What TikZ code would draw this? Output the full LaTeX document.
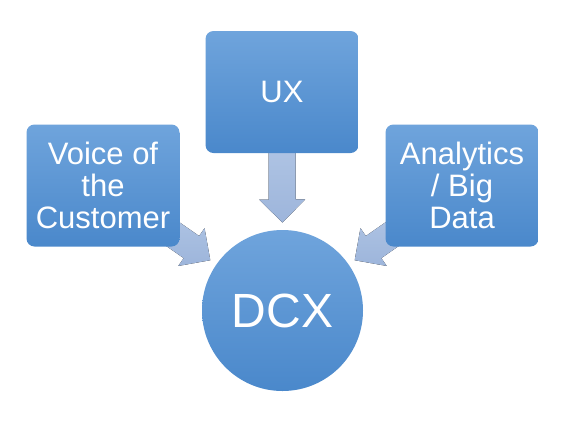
\documentclass[tikz,border=0pt]{standalone}
\usepackage{fontspec}
\setmainfont{Liberation Sans}
\usetikzlibrary{calc}
\definecolor{boxtop}{HTML}{6FA4DC}
\definecolor{boxbot}{HTML}{4A88CB}
\definecolor{arrtop}{HTML}{BCCFEA}
\definecolor{arrbot}{HTML}{9DB5DB}
\tikzset{
  boxnode/.style={rectangle, rounded corners=8pt, minimum width=153pt, minimum height=122pt,
    top color=boxtop, bottom color=boxbot, draw=none, text=white, align=center,
    font=\fontsize{31}{32}\selectfont, inner sep=0pt},
  hubnode/.style={circle, minimum size=161pt, top color=boxtop, bottom color=boxbot,
    draw=none, text=white, font=\fontsize{48}{50}\selectfont, inner sep=0pt},
  arrowfill/.style={top color=arrtop, bottom color=arrbot, draw=none}
}
\newcommand{\myblockarrow}[2]{%
  \path ($(#2.center)!88pt!(#1.center)$) coordinate (t)
        ($(#2.center)!111pt!(#1.center)$) coordinate (hb)
        (#1.center) coordinate (s);
  \fill[arrowfill] ($(hb)!13.5pt!90:(t)$) -- ($(hb)!23pt!90:(t)$) -- (t)
     -- ($(hb)!23pt!-90:(t)$) -- ($(hb)!13.5pt!-90:(t)$)
     -- ($(s)!13.5pt!-90:(hb)$) -- ($(s)!13.5pt!90:(hb)$) -- cycle;
}
\begin{document}
\begin{tikzpicture}[x=1pt,y=-1pt]
\useasboundingbox (0,0) rectangle (565,424);
\fill[white] (0,0) rectangle (565,424);
\coordinate (vc) at (103,185.5);
\coordinate (uc) at (282,92);
\coordinate (ac) at (462,185.5);
\coordinate (dc) at (282.5,310.5);
% arrows first (behind)
\node[circle, minimum size=1pt, inner sep=0pt] (hubc) at (dc) {};
\node[circle, minimum size=1pt, inner sep=0pt] (vcc) at (vc) {};
\node[circle, minimum size=1pt, inner sep=0pt] (ucc) at (uc) {};
\node[circle, minimum size=1pt, inner sep=0pt] (acc) at (ac) {};
\myblockarrow{vcc}{hubc}
\myblockarrow{ucc}{hubc}
\myblockarrow{acc}{hubc}
\node[boxnode] (voice) at (vc) {Voice of\\the\\Customer};
\node[boxnode] (ux) at (uc) {UX};
\node[boxnode] (ana) at (ac) {Analytics\\/ Big\\Data};
\node[hubnode] (dcx) at (dc) {DCX};
\end{tikzpicture}
\end{document}
